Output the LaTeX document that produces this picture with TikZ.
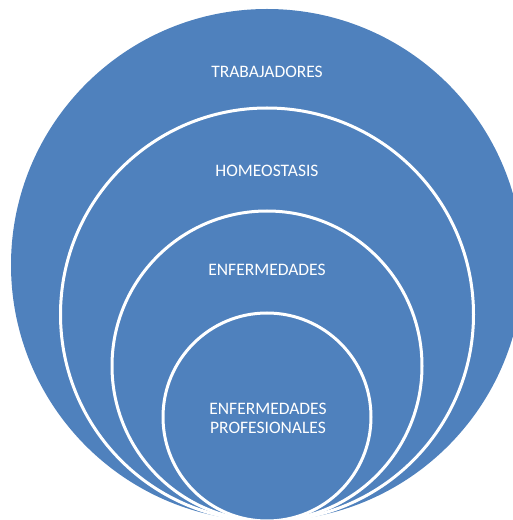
\documentclass[tikz,border=0pt]{standalone}
\usepackage{fontspec}
\setmainfont{Carlito}
\definecolor{ringblue}{HTML}{4F81BD}
\begin{document}
\begin{tikzpicture}[x=1pt,y=1pt,
  ring/.style={circle,fill=ringblue,draw=white,line width=3pt,inner sep=0pt},
  lbl/.style={text=white,font=\fontsize{17.5}{19.5}\selectfont,align=center,inner sep=0pt}]
\useasboundingbox (0,0) rectangle (512,520);
\node[ring,draw=none,minimum size=512] (c1) at (267,255) {};
\node[ring,minimum size=413] (c2) at (267,205.5) {};
\node[ring,minimum size=310] (c3) at (267,154) {};
\node[ring,minimum size=208] (c4) at (267,103) {};
\node[lbl] (t1) at (267,448) {TRABAJADORES};
\node[lbl] (t2) at (267,349) {HOMEOSTASIS};
\node[lbl] (t3) at (267,250) {ENFERMEDADES};
\node[lbl] (t4) at (268,101.5) {ENFERMEDADES\\PROFESIONALES};
\end{tikzpicture}
\end{document}
